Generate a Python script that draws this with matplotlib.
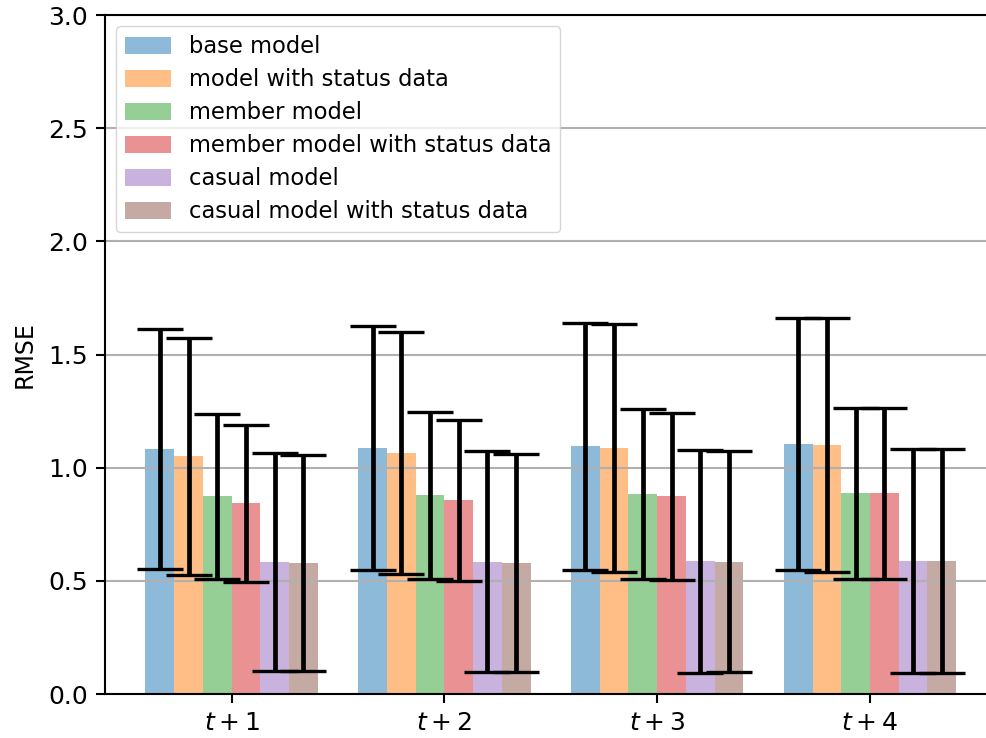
import numpy as np
import matplotlib
matplotlib.use('Agg')
import matplotlib.pyplot as plt

# Horyzonty prognozy
horizons = ['$t+1$', '$t+2$', '$t+3$', '$t+4$']

# Nazwy modeli (kolejność słupków w grupie)
model_names = [
    'base model',
    'model with status data',
    'member model',
    'member model with status data',
    'casual model',
    'casual model with status data',
]

# Średnie RMSE dla każdego modelu i horyzontu
rmse_base = [1.083, 1.086, 1.094, 1.104]
rmse_status = [1.050, 1.064, 1.088, 1.101]
rmse_member = [0.873, 0.879, 0.884, 0.887]
rmse_member_status = [0.842, 0.856, 0.874, 0.886]
rmse_casual = [0.582, 0.584, 0.586, 0.587]
rmse_casual_status = [0.578, 0.580, 0.585, 0.587]

# Odchylenia standardowe (słupki błędów)
std_base = [0.531, 0.539, 0.546, 0.558]
std_status = [0.524, 0.534, 0.548, 0.560]
std_member = [0.363, 0.369, 0.374, 0.377]
std_member_status = [0.347, 0.356, 0.369, 0.377]
std_casual = [0.482, 0.488, 0.492, 0.496]
std_casual_status = [0.478, 0.481, 0.489, 0.496]

means = [rmse_base, rmse_status, rmse_member, rmse_member_status,
         rmse_casual, rmse_casual_status]
stds = [std_base, std_status, std_member, std_member_status,
        std_casual, std_casual_status]
colors = ['tab:blue', 'tab:orange', 'tab:green', 'tab:red',
          'tab:purple', 'tab:brown']

fig = plt.figure(figsize=(9.87, 7.38), dpi=100)
ax = fig.add_axes([0.1064, 0.0596, 0.9033, 0.920])

x = np.arange(len(horizons))
width = 0.135
offsets = (np.arange(len(model_names)) - 2.5) * width

for i, name in enumerate(model_names):
    ax.bar(x + offsets[i], means[i], width, yerr=stds[i], label=name,
           color=colors[i], alpha=0.5,
           error_kw=dict(ecolor='black', elinewidth=3.4, capsize=16.8,
                         capthick=2.4))

ax.set_xticks(x)
ax.set_xticklabels(horizons)
ax.set_xlim(-0.595, 3.595)
ax.set_ylim(0, 3.0)
ax.set_yticks(np.arange(0, 3.01, 0.5))
ax.set_ylabel('RMSE', fontsize=17, labelpad=8)
ax.yaxis.grid(True, color='#b0b0b0', linewidth=1.5)
ax.tick_params(labelsize=18, length=6.4, width=1.5, pad=6)
for side in ['left', 'bottom', 'top', 'right']:
    ax.spines[side].set_linewidth(1.5)

ax.legend(loc='upper left', fontsize=16.3, labelspacing=0.44,
          handleheight=0.75)

fig.savefig('out.png', dpi=100)
